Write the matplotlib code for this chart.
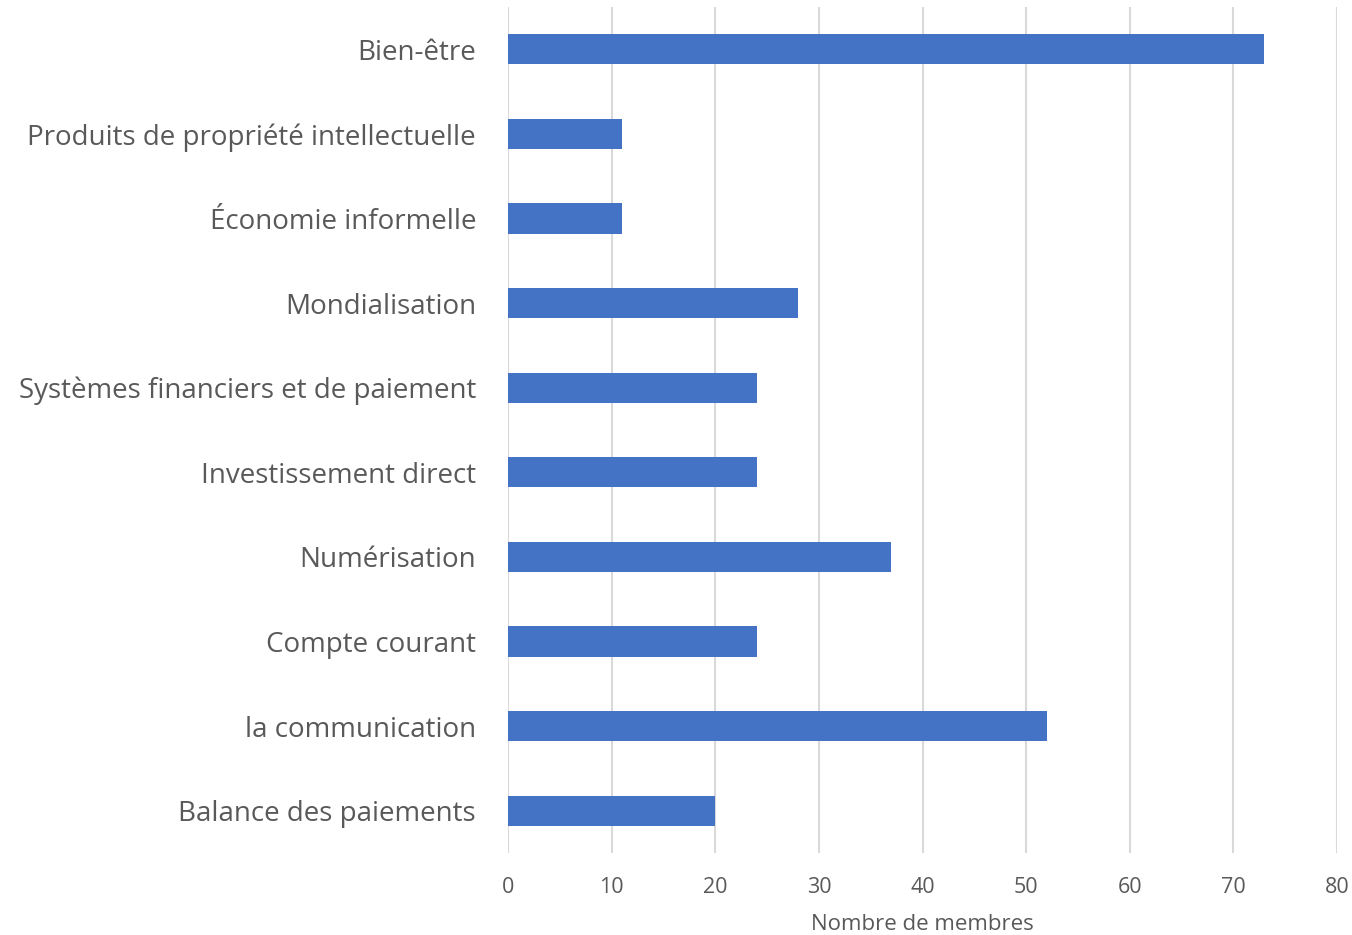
import matplotlib
matplotlib.use('Agg')
import matplotlib.pyplot as plt

plt.rcParams['font.family'] = ['Open Sans', 'DejaVu Sans']

# catégories, de bas en haut
categories = ['Balance des paiements', 'la communication', 'Compte courant',
              'Numérisation', 'Investissement direct',
              'Systèmes financiers et de paiement', 'Mondialisation',
              'Économie informelle', 'Produits de propriété intellectuelle',
              'Bien-être']
membres = [20, 52, 24, 37, 24, 24, 28, 11, 11, 73]
xticks = [0, 10, 20, 30, 40, 50, 60, 70, 80]

fig = plt.figure(figsize=(13.52, 9.35), dpi=100)
ax = fig.add_axes([508 / 1352, 1 - 853 / 935, (1337 - 508) / 1352, 846 / 935])

y = range(len(categories))
ax.barh(y, membres, height=0.355, color='#4472C4', zorder=3)

ax.set_xlim(0, 80)
ax.set_ylim(-0.5, len(categories) - 0.5)
ax.set_xticks(xticks)
ax.set_yticks(list(y))
ax.set_yticklabels(categories)

ax.grid(axis='x', color='#D9D9D9', linewidth=1.5, zorder=0)
for s in ax.spines.values():
    s.set_visible(False)
ax.tick_params(axis='both', length=0, colors='#595959')
ax.tick_params(axis='y', labelsize=20, pad=23)
ax.tick_params(axis='x', labelsize=15.5, pad=17)
ax.set_xlabel('Nombre de membres', fontsize=16, color='#595959', labelpad=12)

fig.savefig('out.png', dpi=100)
